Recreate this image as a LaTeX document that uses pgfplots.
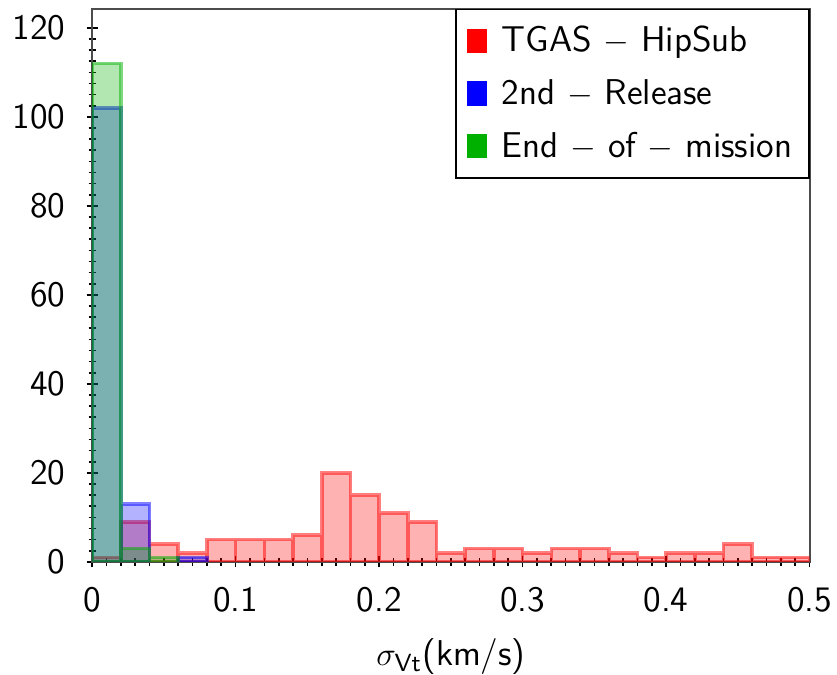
\documentclass[border={4.6pt 0pt 1.8pt 2.8pt}]{standalone}
\usepackage{pgfplots}
\pgfplotsset{compat=1.18}
\renewcommand{\familydefault}{\sfdefault}
\definecolor{hgreen}{RGB}{0,176,0}
\definecolor{hblue}{RGB}{0,0,255}
\definecolor{hred}{RGB}{255,0,0}
\newcommand{\lsize}{\fontsize{13}{15}\selectfont}
\begin{document}
\begin{tikzpicture}
\begin{axis}[
  width=260pt, height=200.5pt, scale only axis,
  xmin=0, xmax=0.5, ymin=0, ymax=124.3,
  xtick={0,0.1,0.2,0.3,0.4,0.5},
  xticklabels={0,0.1,0.2,0.3,0.4,0.5},
  ytick={0,20,40,60,80,100,120},
  minor x tick num=9, minor y tick num=7,
  tick pos=left, tick align=center,
  major tick length=4pt, minor tick length=2.6pt,
  tick style={black, line width=0.6pt},
  axis line style={black!70, line width=0.7pt},
  /pgf/number format/assume math mode=true,
  ticklabel style={font=\lsize, inner sep=0pt},
  yticklabel style={xshift=-7.5pt},
  xticklabel style={yshift=-6.8pt},
  xlabel={$\sigma_{\mathsf{Vt}}$(km/s)},
  xlabel style={font=\lsize, inner sep=0pt, yshift=-9.5pt},
  legend style={at={(1,1)}, anchor=north east, font=\lsize,
    draw=black, line width=0.6pt, row sep=4.5pt,
    inner xsep=4pt, inner ysep=4pt, cells={anchor=west}},
  legend image code/.code={\fill[#1] (0pt,-4pt) rectangle (6.5pt,4.2pt); \path (10pt,0pt);},
]
% TGAS - HipSub
\addplot[ybar interval, forget plot, fill=hred, fill opacity=0.3,
  draw=hred, draw opacity=0.5, line width=1.3pt] coordinates {
(0,1) (0.02,9) (0.04,4) (0.06,2) (0.08,5) (0.10,5) (0.12,5) (0.14,6)
(0.16,20) (0.18,15) (0.20,11) (0.22,9) (0.24,2) (0.26,3) (0.28,3)
(0.30,2) (0.32,3) (0.34,3) (0.36,2) (0.38,1) (0.40,2) (0.42,2)
(0.44,4) (0.46,1) (0.48,1) (0.50,1)
};
% 2nd - Release
\addplot[ybar interval, forget plot, fill=hblue, fill opacity=0.3,
  draw=hblue, draw opacity=0.5, line width=1.3pt] coordinates {
(0,102) (0.02,13) (0.04,13)
};
\addplot[ybar interval, forget plot, fill=hblue, fill opacity=0.3,
  draw=hblue, draw opacity=0.5, line width=1.3pt] coordinates {
(0.06,1) (0.08,1)
};
% End - of - mission
\addplot[ybar interval, forget plot, fill=hgreen, fill opacity=0.3,
  draw=hgreen, draw opacity=0.5, line width=1.3pt] coordinates {
(0,112) (0.02,3) (0.04,1) (0.06,1)
};
\addlegendimage{hred}
\addlegendentry{TGAS $-$ HipSub}
\addlegendimage{hblue}
\addlegendentry{2nd $-$ Release}
\addlegendimage{hgreen}
\addlegendentry{End $-$ of $-$ mission}
\end{axis}
\end{tikzpicture}
\end{document}
